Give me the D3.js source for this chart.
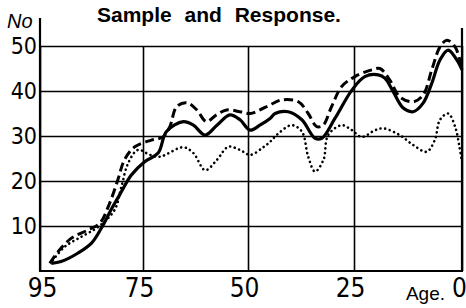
<!DOCTYPE html>
<html>
<head>
<meta charset="utf-8">
<script src="https://cdn.jsdelivr.net/npm/d3@7"></script>
<style>
	html, body { margin: 0; padding: 0; background: #fff; }
	svg { display: block; }
	.tick line { stroke: #000; stroke-width: 1.6; }
	.tick text { font-family: 'Liberation Sans Narrow', 'DejaVu Sans Condensed', sans-serif; fill: #000; }
</style>
</head>
<body>
<svg id="chart" width="466" height="308"></svg>
<script>
'use strict'

// ages as printed on the x axis (the drawing is not evenly spaced)
var xTickAges = [95, 75, 50, 25, 0];
var yTickValues = [10, 20, 30, 40, 50];

// [age, number]
var solidLine = [
	[92.8, 1.7], [90.9, 2.1], [87.6, 4.0], [85.0, 6.2], [83.1, 9.5], [81.2, 13.6], [79.2, 17.6],
	[77.3, 21.3], [74.6, 24.3], [71.4, 26.2], [69.4, 31.0], [65.4, 33.2], [63.0, 32.4], [60.2, 30.2],
	[57.4, 32.4], [54.3, 34.7], [51.9, 33.6], [49.5, 31.3], [47.2, 32.4], [44.8, 33.9], [43.6, 35.0],
	[40.5, 35.4], [37.3, 33.6], [34.2, 29.5], [32.6, 29.5], [29.5, 33.9], [25.5, 40.2], [22.5, 43.2],
	[19.4, 43.6], [17.8, 42.8], [15.9, 39.8], [13.6, 36.2], [11.3, 35.4], [9.0, 37.3], [7.0, 41.7],
	[5.1, 46.9], [3.2, 49.1], [1.2, 46.9], [0, 44.7]
];
var dashedLine = [
	[93.1, 1.7], [91.5, 4.3], [88.9, 7.3], [85.7, 9.1], [83.4, 10.6], [81.5, 15.0], [79.9, 20.2],
	[78.6, 24.7], [76.6, 27.6], [73.0, 29.1], [70.2, 29.8], [68.6, 32.1], [67.0, 36.5], [64.6, 37.4],
	[62.2, 35.8], [59.9, 33.2], [57.5, 34.7], [55.1, 35.8], [51.9, 35.4], [49.5, 35.0], [47.2, 35.8],
	[44.8, 36.9], [42.1, 38.0], [38.1, 37.6], [35.8, 35.0], [33.8, 32.1], [32.3, 32.4], [30.3, 36.5],
	[27.9, 41.0], [24.8, 43.2], [20.9, 44.7], [19.0, 45.0], [16.7, 42.4], [14.4, 38.7], [11.3, 37.6],
	[9.0, 39.1], [7.0, 44.7], [5.1, 49.8], [3.5, 51.3], [1.6, 49.8], [0.1, 45.4]
];
var dottedLine = [
	[92.5, 2.4], [90.2, 5.4], [87.0, 7.6], [83.7, 9.8], [80.5, 13.6], [79.2, 18.7], [77.9, 23.9],
	[76.0, 26.9], [73.3, 25.8], [71.0, 25.4], [65.4, 27.5], [63.0, 26.2], [60.2, 22.4], [57.4, 24.7],
	[54.7, 27.6], [51.9, 26.9], [49.5, 25.8], [46.4, 27.5], [44.8, 28.7], [42.8, 30.6], [39.7, 32.4],
	[37.3, 31.0], [35.8, 25.4], [34.2, 22.1], [32.2, 24.7], [31.1, 30.2], [27.9, 32.4], [25.5, 31.3],
	[23.2, 29.8], [20.1, 31.3], [18.2, 31.7], [14.4, 30.2], [11.3, 28.0], [8.2, 26.5], [6.3, 29.1],
	[5.1, 33.6], [3.2, 35.0], [1.6, 32.1], [0.6, 27.6], [0.1, 24.7]
];

var svg = d3.select('#chart');
svg.append('rect').attr('width', 466).attr('height', 308).attr('fill', '#fff');

var plot = { left: 40, right: 462, top: 46, bottom: 271 };

var xScale = d3.scaleLinear()
	.domain(xTickAges)
	.range([plot.left, 143, 248, 354, plot.right]);
var yScale = d3.scaleLinear()
	.domain([0, 50])
	.range([plot.bottom, plot.top]);

// horizontal grid + labels
var yAxis = svg.append('g')
	.attr('transform', `translate(${plot.left},0)`)
	.call(d3.axisLeft(yScale).tickValues(yTickValues).tickSize(-(plot.right - plot.left)).tickPadding(3));
yAxis.select('.domain').remove();
yAxis.selectAll('text')
	.attr('font-size', 23)
	.attr('dy', '0.34em');

// vertical grid + labels
var xAxis = svg.append('g')
	.attr('transform', `translate(0,${plot.bottom})`)
	.call(d3.axisBottom(xScale).tickValues(xTickAges).tickSize(-(plot.bottom - plot.top)).tickPadding(0));
xAxis.select('.domain').remove();
xAxis.selectAll('text')
	.attr('font-size', 26)
	.attr('y', 26)
	.attr('dy', 0)
	.attr('dx', function(d){ return d === 0 ? -3 : (d === 95 ? 2 : -4); });

// frame
svg.append('line').attr('x1', plot.left).attr('x2', plot.left).attr('y1', 18).attr('y2', plot.bottom)
	.attr('stroke', '#000').attr('stroke-width', 2.2);
svg.append('line').attr('x1', plot.right).attr('x2', plot.right).attr('y1', 28).attr('y2', plot.bottom)
	.attr('stroke', '#000').attr('stroke-width', 2.2);
svg.append('line').attr('x1', plot.left - 1).attr('x2', plot.right + 1).attr('y1', plot.bottom).attr('y2', plot.bottom)
	.attr('stroke', '#000').attr('stroke-width', 2.2);

var line = d3.line()
	.x(function(d){ return xScale(d[0]); })
	.y(function(d){ return yScale(d[1]); })
	.curve(d3.curveCatmullRom.alpha(0.5));

svg.append('path').datum(dottedLine)
	.attr('d', line).attr('fill', 'none').attr('stroke', '#000')
	.attr('stroke-width', 2.6).attr('stroke-linecap', 'round').attr('stroke-dasharray', '0.1,4.6');
svg.append('path').datum(dashedLine)
	.attr('d', line).attr('fill', 'none').attr('stroke', '#000')
	.attr('stroke-width', 3).attr('stroke-dasharray', '9,4.5');
svg.append('path').datum(solidLine)
	.attr('d', line).attr('fill', 'none').attr('stroke', '#000')
	.attr('stroke-width', 3.2).attr('stroke-linejoin', 'round');

// texts
svg.append('text')
	.attr('x', 97).attr('y', 22)
	.attr('font-family', 'Liberation Sans, Arial, sans-serif').attr('font-weight', 'bold').attr('font-size', 21)
	.attr('word-spacing', 7)
	.text('Sample and Response.');

svg.append('text')
	.attr('x', 7).attr('y', 28)
	.attr('font-family', 'Liberation Sans Narrow, sans-serif').attr('font-size', 20)
	.attr('font-style', 'italic')
	.text('No');

svg.append('text')
	.attr('x', xScale(0) - 17).attr('y', 300)
	.attr('text-anchor', 'end')
	.attr('font-family', 'Liberation Sans Narrow, sans-serif').attr('font-size', 19)
	.text('Age.');
</script>
</body>
</html>
